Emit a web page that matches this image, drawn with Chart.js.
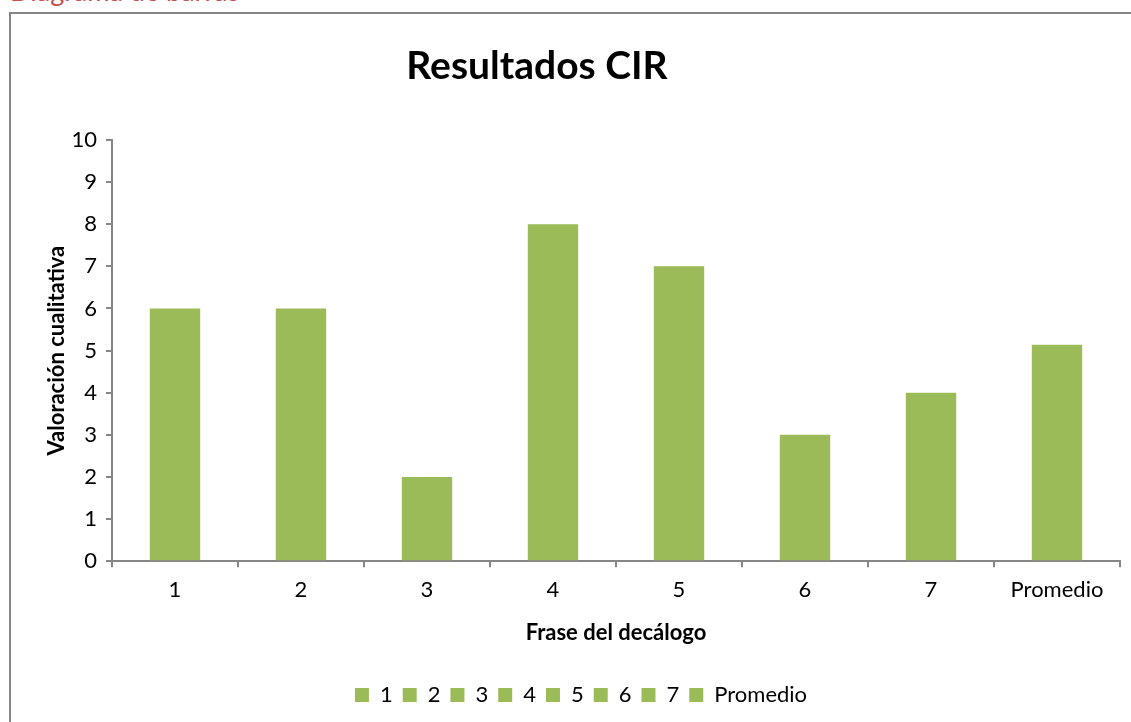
<!DOCTYPE html>
<html>
<head>
<meta charset="utf-8">
<script src="https://cdn.jsdelivr.net/npm/chart.js@4/dist/chart.umd.min.js"></script>
<style>
    body { margin: 0; background: #fff; overflow: hidden; width: 1131px; height: 722px; position: relative; font-family: Lato, sans-serif; }
    .caption { position: absolute; left: 10px; top: -23px; font-size: 27px; line-height: 27px; color: #C0504D; white-space: nowrap; }
    .frame { position: absolute; left: 9px; top: 12px; width: 1200px; height: 800px; border: 2px solid #868686; box-sizing: border-box; }
    .chart-box { position: absolute; left: 11px; top: 14px; width: 1120px; height: 708px; }
</style>
</head>
<body>
<div class="caption">Diagrama de barras</div>
<div class="frame"></div>
<div class="chart-box"><canvas id="cirChart"></canvas></div>
<script>
// data
const categories = ['1', '2', '3', '4', '5', '6', '7', 'Promedio'];
const scores = [6, 6, 2, 8, 7, 3, 4, 5.14];
const yMin = 0;
const yMax = 10;
const yStep = 1;

const barColor = '#9BBB59';
const axisColor = '#868686';
const fontFamily = 'Lato, sans-serif';

// title is drawn a bit left of the canvas centre, like the original
const chartTitle = {
    id: 'chartTitle',
    afterDraw(chart) {
        const ctx = chart.ctx;
        ctx.save();
        ctx.font = 'bold 39px ' + fontFamily;
        ctx.fillStyle = '#000';
        ctx.textAlign = 'center';
        ctx.textBaseline = 'middle';
        ctx.fillText('Resultados CIR', chart.width * 0.4696, 52);
        ctx.restore();
    }
};

const ctx = document.getElementById('cirChart').getContext('2d');
new Chart(ctx, {
    type: 'bar',
    data: {
        labels: categories,
        datasets: [{
            label: 'Resultados CIR',
            data: scores,
            backgroundColor: barColor,
            borderWidth: 0,
            categoryPercentage: 1,
            barPercentage: 0.4
        }]
    },
    options: {
        responsive: true,
        maintainAspectRatio: false,
        animation: false,
        layout: {
            // left padding only nudges the legend to the right
            padding: { top: 126, right: 11, bottom: 6, left: 31 }
        },
        plugins: {
            title: { display: false },
            tooltip: { enabled: false },
            legend: {
                display: true,
                position: 'bottom',
                onClick: null,
                labels: {
                    color: '#000',
                    font: { family: fontFamily, size: 22 },
                    boxWidth: 14,
                    boxHeight: 14,
                    padding: 10,
                    generateLabels: () => categories.map((c, i) => ({
                        text: c,
                        fillStyle: barColor,
                        strokeStyle: barColor,
                        lineWidth: 0,
                        hidden: false,
                        index: i,
                        datasetIndex: 0
                    }))
                }
            }
        },
        scales: {
            x: {
                offset: true,
                grid: {
                    display: true,
                    drawOnChartArea: false,
                    drawTicks: true,
                    tickLength: 6,
                    color: axisColor,
                    lineWidth: 2
                },
                border: { color: axisColor, width: 2 },
                ticks: {
                    color: '#000',
                    font: { family: fontFamily, size: 22 },
                    padding: 10,
                    maxRotation: 0
                },
                title: {
                    display: true,
                    text: 'Frase del decálogo',
                    color: '#000',
                    font: { family: fontFamily, size: 22, weight: 'bold' },
                    padding: { top: 6, bottom: 28 }
                }
            },
            y: {
                min: yMin,
                max: yMax,
                grid: {
                    display: true,
                    drawOnChartArea: false,
                    drawTicks: true,
                    tickLength: 6,
                    color: axisColor,
                    lineWidth: 2
                },
                border: { color: axisColor, width: 2 },
                ticks: {
                    stepSize: yStep,
                    color: '#000',
                    font: { family: fontFamily, size: 22 },
                    padding: 9
                },
                title: {
                    display: true,
                    text: 'Valoración cualitativa',
                    color: '#000',
                    font: { family: fontFamily, size: 22, weight: 'bold' },
                    padding: { top: 2, bottom: 0 }
                },
                afterFit: scale => { scale.width = 70; }
            }
        }
    },
    plugins: [chartTitle]
});
</script>
</body>
</html>
